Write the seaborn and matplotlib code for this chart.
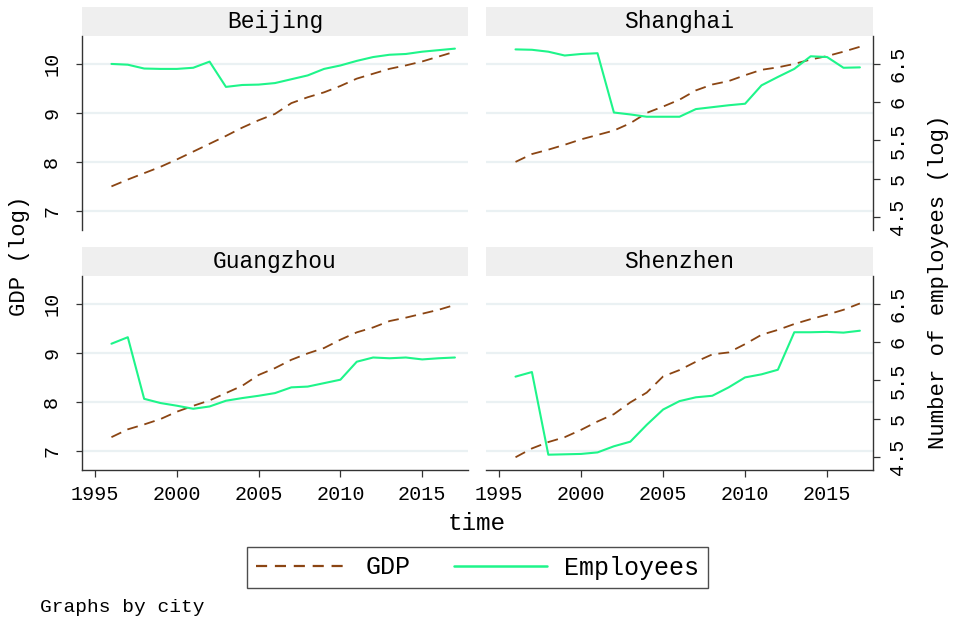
import numpy as np
import pandas as pd
import matplotlib
matplotlib.use("Agg")
import matplotlib.pyplot as plt
from matplotlib.lines import Line2D
import seaborn as sns

# ------------- Data -------------
years = list(range(1996, 2018))
cities = ["Beijing", "Shanghai", "Guangzhou", "Shenzhen"]

gdp_beijing = [7.50, 7.64, 7.77, 7.90, 8.05, 8.21, 8.37, 8.53, 8.70, 8.85, 8.98,
               9.20, 9.32, 9.42, 9.55, 9.70, 9.80, 9.90, 9.97, 10.05, 10.15, 10.25]
gdp_shanghai = [8.00, 8.16, 8.25, 8.35, 8.46, 8.55, 8.64, 8.79, 9.00, 9.13, 9.27,
                9.46, 9.58, 9.65, 9.77, 9.88, 9.93, 10.00, 10.09, 10.16, 10.25, 10.35]
gdp_guangzhou = [7.28, 7.44, 7.54, 7.65, 7.80, 7.92, 8.03, 8.18, 8.33, 8.55, 8.69,
                 8.86, 8.99, 9.10, 9.27, 9.42, 9.52, 9.65, 9.72, 9.80, 9.88, 9.98]
gdp_shenzhen = [6.87, 7.05, 7.18, 7.28, 7.43, 7.60, 7.75, 7.99, 8.19, 8.52, 8.65,
                8.82, 8.97, 9.01, 9.18, 9.37, 9.47, 9.59, 9.69, 9.78, 9.88, 10.01]

emp_beijing = [6.50, 6.49, 6.44, 6.435, 6.435, 6.45, 6.53, 6.20, 6.225, 6.23, 6.25,
               6.30, 6.35, 6.435, 6.48, 6.54, 6.59, 6.62, 6.63, 6.66, 6.68, 6.70]
emp_shanghai = [6.69, 6.685, 6.66, 6.61, 6.63, 6.64, 5.865, 5.84, 5.81, 5.81, 5.81,
                5.91, 5.935, 5.96, 5.98, 6.22, 6.33, 6.435, 6.60, 6.59, 6.45, 6.455]
emp_guangzhou = [5.98, 6.065, 5.26, 5.205, 5.17, 5.13, 5.16, 5.235, 5.27, 5.30, 5.335,
                 5.41, 5.42, 5.465, 5.51, 5.745, 5.80, 5.79, 5.80, 5.775, 5.79, 5.80]
emp_shenzhen = [5.55, 5.61, 4.53, 4.535, 4.54, 4.56, 4.64, 4.70, 4.92, 5.12, 5.23,
                5.28, 5.30, 5.41, 5.54, 5.58, 5.64, 6.13, 6.13, 6.135, 6.125, 6.15]

gdp_ticks = [7, 8, 9, 10]
emp_ticks = [4.5, 5, 5.5, 6, 6.5]
emp_tick_labels = ["4.5", "5", "5.5", "6", "6.5"]
x_ticks = [1995, 2000, 2005, 2010, 2015]

gdp = {"Beijing": gdp_beijing, "Shanghai": gdp_shanghai,
       "Guangzhou": gdp_guangzhou, "Shenzhen": gdp_shenzhen}
emp = {"Beijing": emp_beijing, "Shanghai": emp_shanghai,
       "Guangzhou": emp_guangzhou, "Shenzhen": emp_shenzhen}

df = pd.concat([pd.DataFrame({"city": c, "time": years, "gdp": gdp[c], "emp": emp[c]})
                for c in cities], ignore_index=True)

# ------------- Style -------------
sns.set_style("white")
plt.rcParams["font.family"] = ["Liberation Mono", "DejaVu Sans Mono"]
plt.rcParams["text.color"] = "black"
plt.rcParams["xtick.color"] = "black"
plt.rcParams["ytick.color"] = "black"

GDP_COLOR = "#8B4513"
EMP_COLOR = "#1EF58A"
GRID_COLOR = "#EAF1F3"
STRIP_COLOR = "#EFEFEF"
AX_COLOR = "#333333"

W, H = 955, 625
fig = plt.figure(figsize=(W / 100, H / 100), dpi=100)
fig.patch.set_facecolor("white")


def rect(x0, y0, x1, y1):
    # pixel box -> figure fraction
    return [x0 / W, 1 - y1 / H, (x1 - x0) / W, (y1 - y0) / H]


panels = {
    "Beijing":   (82, 36, 468, 230, 7),
    "Shanghai":  (486, 36, 873, 230, 7),
    "Guangzhou": (82, 276, 468, 470, 247),
    "Shenzhen":  (486, 276, 873, 470, 247),
}

for city in cities:
    x0, y0, x1, y1, sy = panels[city]
    is_left = x0 < 300
    is_bottom = y0 > 200
    sub = df[df["city"] == city]

    # strip title
    strip = fig.add_axes(rect(x0, sy, x1, y0))
    strip.set_facecolor(STRIP_COLOR)
    strip.set_xticks([])
    strip.set_yticks([])
    for s in strip.spines.values():
        s.set_visible(False)
    strip.text(0.5, 0.5, city, ha="center", va="center", fontsize=16.5,
               transform=strip.transAxes)

    ax = fig.add_axes(rect(x0, y0, x1, y1))
    ax2 = ax.twinx()

    sns.lineplot(data=sub, x="time", y="gdp", ax=ax, color=GDP_COLOR,
                 linewidth=1.3, linestyle=(0, (6, 3.8)))
    sns.lineplot(data=sub, x="time", y="emp", ax=ax2, color=EMP_COLOR,
                 linewidth=1.5)

    ax.set_xlim(1994.2, 2017.8)
    ax.set_ylim(6.61, 10.57)
    ax2.set_ylim(4.33, 6.865)
    ax.set_xlabel("")
    ax.set_ylabel("")
    ax2.set_ylabel("")

    ax.set_yticks(gdp_ticks)
    ax.grid(axis="y", color=GRID_COLOR, linewidth=1.6)
    ax.grid(axis="x", visible=False)
    ax.set_axisbelow(True)
    ax2.grid(False)
    ax2.set_yticks(emp_ticks)

    ax.spines["top"].set_visible(False)
    ax2.spines["top"].set_visible(False)

    # left axis (GDP)
    if is_left:
        ax.spines["left"].set_color(AX_COLOR)
        ax.spines["left"].set_linewidth(1.0)
        ax.tick_params(axis="y", direction="out", length=4.5, width=0.9,
                       color=AX_COLOR, pad=10.5, labelsize=14.5, left=True)
        for lab in ax.get_yticklabels():
            lab.set_rotation(90)
            lab.set_va("center")
    else:
        ax.spines["left"].set_visible(False)
        ax.tick_params(axis="y", left=False, labelleft=False)
    ax2.spines["left"].set_visible(False)

    # right axis (employees)
    if not is_left:
        ax2.spines["right"].set_color(AX_COLOR)
        ax2.spines["right"].set_linewidth(1.0)
        ax2.set_yticklabels(emp_tick_labels)
        ax2.tick_params(axis="y", direction="out", length=5, width=0.9,
                        color=AX_COLOR, pad=6, labelsize=14.5, right=True)
        for lab in ax2.get_yticklabels():
            lab.set_rotation(90)
            lab.set_va("center")
    else:
        ax2.spines["right"].set_visible(False)
        ax2.tick_params(axis="y", right=False, labelright=False)
    ax.spines["right"].set_visible(False)

    # x axis
    ax.set_xticks(x_ticks)
    if is_bottom:
        ax.spines["bottom"].set_color(AX_COLOR)
        ax.spines["bottom"].set_linewidth(1.0)
        ax.tick_params(axis="x", direction="out", length=5, width=0.9,
                       color=AX_COLOR, pad=6, labelsize=14.5, bottom=True)
    else:
        ax.spines["bottom"].set_visible(False)
        ax.tick_params(axis="x", bottom=False, labelbottom=False)
    ax2.spines["bottom"].set_visible(False)
    ax2.tick_params(axis="x", bottom=False, labelbottom=False)

    if ax.get_legend() is not None:
        ax.get_legend().remove()

# ------------- Titles, legend, note -------------
fig.text(20 / W, 1 - 256 / H, "GDP (log)", rotation=90, ha="center", va="center",
         fontsize=16)
fig.text(938 / W, 1 - 282 / H, "Number of employees (log)", rotation=90,
         ha="center", va="center", fontsize=16)
fig.text(477 / W, 1 - 524 / H, "time", ha="center", va="center", fontsize=17.5)

handles = [Line2D([], [], color=GDP_COLOR, linewidth=1.6, linestyle=(0, (5, 3.5))),
           Line2D([], [], color=EMP_COLOR, linewidth=1.8)]
leg = fig.legend(handles, ["GDP", "Employees"], loc="center",
                 bbox_to_anchor=(477.5 / W, 1 - 567.5 / H), ncol=2,
                 frameon=True, fancybox=False, fontsize=18,
                 handlelength=3.7, handletextpad=0.7, columnspacing=1.75,
                 borderpad=0.35, borderaxespad=0)
leg.get_frame().set_edgecolor("#222222")
leg.get_frame().set_linewidth(1.0)

fig.text(40 / W, 1 - 608 / H, "Graphs by city", ha="left", va="center", fontsize=14)

fig.savefig("out.png", dpi=100)
